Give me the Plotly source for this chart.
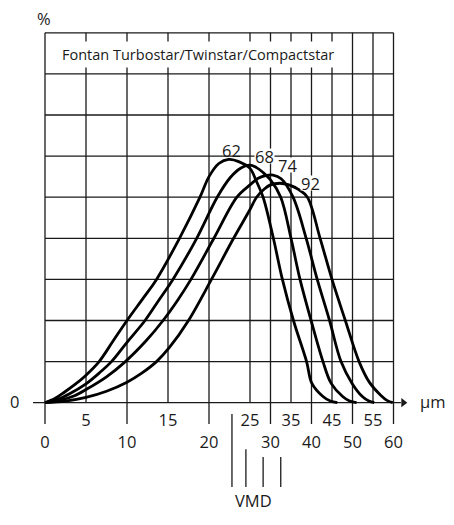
import numpy as np
import plotly.graph_objects as go

# Tropfengrößenspektren Fontan-Geräte (Düsenstufen 62/68/74/92)
titel = "Fontan Turbostar/Twinstar/Compactstar"

# Achsen: x in µm (ab 25 µm halber Maßstab), y in Rasterkästchen
x_ticks = [0, 5, 10, 15, 20, 25, 30, 35, 40, 45, 50, 55, 60]
y_rows = [0, 1, 2, 3, 4, 5, 6, 7, 8, 9]

kurven = ["62", "68", "74", "92"]

x_62 = [0, 1.2, 2.4, 3.7, 5.0, 6.6, 8.3, 10.0, 12.0, 13.6, 16.4, 18.9, 20.0, 21.2,
        22.4, 23.7, 25.0, 26.5, 28.2, 30.7, 32.9, 35.6, 38.8, 40.1, 42.8, 44.6, 46.3]
y_62 = [0, 0.1, 0.26, 0.45, 0.67, 1.0, 1.5, 2.0, 2.55, 3.0, 4.0, 5.0, 5.5, 5.82,
        5.92, 5.86, 5.7, 5.4, 5.0, 4.0, 3.0, 2.0, 1.0, 0.47, 0.15, 0.04, 0]

x_68 = [0, 1.5, 3.0, 5.0, 6.6, 8.1, 10.0, 12.2, 13.9, 15.6, 18.5, 21.0, 22.6, 23.8,
        25.0, 26.6, 28.2, 30.0, 32.5, 35.0, 37.2, 39.9, 42.8, 44.8, 47.6, 49.3, 51.0]
y_68 = [0, 0.08, 0.22, 0.46, 0.72, 1.0, 1.47, 2.0, 2.5, 3.0, 4.0, 5.0, 5.48, 5.7,
        5.78, 5.72, 5.6, 5.42, 5.0, 4.0, 3.0, 2.0, 1.0, 0.47, 0.15, 0.04, 0]

x_74 = [0, 2.0, 3.6, 5.0, 7.5, 9.8, 12.3, 14.4, 16.2, 17.8, 20.6, 23.4, 25.0,
        27.0, 29.0, 30.6, 32.6, 35.5, 38.7, 41.4, 44.4, 47.2, 49.9, 52.4, 54.0, 55.3]
y_74 = [0, 0.07, 0.17, 0.32, 0.63, 1.0, 1.5, 2.0, 2.5, 3.0, 4.0, 5.0, 5.3,
        5.46, 5.53, 5.54, 5.45, 5.0, 4.0, 3.0, 2.0, 1.0, 0.47, 0.15, 0.04, 0]

x_92 = [0, 2.5, 5.0, 7.5, 10.0, 11.8, 13.6, 15.2, 17.5, 20.3, 23.0, 25.0, 26.6, 28.5,
        30.0, 32.3, 34.5, 36.8, 39.0, 42.1, 45.0, 48.25, 51.6, 54.1, 57.0, 58.5, 59.8]
y_92 = [0, 0.04, 0.13, 0.28, 0.5, 0.72, 1.0, 1.35, 2.0, 3.0, 4.0, 4.7, 5.0, 5.2,
        5.3, 5.34, 5.3, 5.19, 5.0, 4.0, 3.0, 2.0, 1.0, 0.5, 0.17, 0.05, 0]

vmd_x = [22.8, 24.5, 28.2, 32.5]

W, H = 454, 525
PX_X, PX_Y = 8.2, 41.1      # Pixel je Einheit
X0, Y0 = 37, 394.7          # Ursprung im Diagramm (Seite hat 8 px Rand)


def skala(x):
    # bis 25 µm linear, danach gestaucht auf halben Maßstab
    x = np.asarray(x, dtype=float)
    return np.where(x <= 25, x, 25 + (x - 25) / 2)


def main():
    fig = go.Figure()
    gitter = dict(color="#1a1a1a", width=1.3)
    xs = skala(x_ticks)
    x_max = xs[-1]
    y_max = y_rows[-1]

    # senkrechte Linien, volle Zehner ragen unter die Achse
    gx, gy = [], []
    for t, u in zip(x_ticks, xs):
        unten = -0.52 if t % 10 == 0 else 0
        gx += [u, u, None]
        gy += [unten, y_max, None]
    # waagerechte Linien
    for r in y_rows[1:]:
        gx += [0, x_max, None]
        gy += [r, r, None]
    fig.add_trace(go.Scatter(x=gx, y=gy, mode="lines", line=gitter,
                             hoverinfo="skip"))

    # x-Achse mit Pfeil
    fig.add_trace(go.Scatter(x=[-1.46, 43.4], y=[0, 0], mode="lines",
                             line=gitter, hoverinfo="skip"))
    fig.add_trace(go.Scatter(x=[43.7], y=[0], mode="markers",
                             marker=dict(symbol="triangle-right", size=8,
                                         color="#1a1a1a"),
                             hoverinfo="skip"))

    # Kurven
    daten = [(x_62, y_62), (x_68, y_68), (x_74, y_74), (x_92, y_92)]
    for name, (kx, ky) in zip(kurven, daten):
        fig.add_trace(go.Scatter(x=skala(kx), y=ky, mode="lines", name=name,
                                 line=dict(color="black", width=2.8,
                                           shape="spline", smoothing=1.0)))

    # VMD-Striche
    vx, vy = [], []
    oben = [-0.275, -1.13, -1.32, -1.32]
    for u, o in zip(skala(vmd_x), oben):
        vx += [u, u, None]
        vy += [-2.05, o, None]
    fig.add_trace(go.Scatter(x=vx, y=vy, mode="lines",
                             line=dict(color="#1a1a1a", width=1.3),
                             hoverinfo="skip"))

    # Tick-Beschriftung in zwei Reihen
    schrift = dict(family="Open Sans", size=16.5, color="#1a1a1a")
    fig.add_trace(go.Scatter(
        x=xs, y=[-0.99 if t % 10 == 0 else -0.46 for t in x_ticks],
        mode="text", text=[str(t) for t in x_ticks], textfont=schrift,
        hoverinfo="skip"))

    # Kurvenbeschriftung am Maximum (62 ohne Hintergrund, die anderen
    # unterbrechen das Raster)
    versatz = [(3, 9), (14, 9), (15, 10), (31, 0)]
    hinter = ["rgba(0,0,0,0)", "white", "white", "white"]
    for name, (kx, ky), (dx, dy), bg in zip(kurven, daten, versatz, hinter):
        i = int(np.argmax(ky))
        fig.add_annotation(x=float(skala(kx[i])), y=ky[i], text=name,
                           showarrow=False, xshift=dx, yshift=dy,
                           font=schrift, bgcolor=bg, borderpad=0, height=14)

    fig.add_annotation(x=18.66, y=8.46, text=titel, showarrow=False,
                       font=dict(family="Open Sans", size=14.5, color="#1a1a1a"),
                       bgcolor="white", borderpad=3)
    fig.add_annotation(x=-0.12, y=9.36, text="%", showarrow=False, font=schrift)
    fig.add_annotation(x=-3.66, y=0.02, text="0", showarrow=False, font=schrift)
    fig.add_annotation(x=47.2, y=0.02, text="µm", showarrow=False, font=schrift)
    fig.add_annotation(x=25.4, y=-2.37, text="VMD", showarrow=False, font=schrift)

    fig.update_layout(
        width=W, height=H,
        margin=dict(l=0, r=0, t=0, b=0),
        paper_bgcolor="white", plot_bgcolor="white",
        showlegend=False,
        xaxis=dict(visible=False, range=[-X0 / PX_X, (W - X0) / PX_X]),
        yaxis=dict(visible=False, range=[(Y0 - H) / PX_Y, Y0 / PX_Y]),
    )

    fig.write_html("out.html")


main()
